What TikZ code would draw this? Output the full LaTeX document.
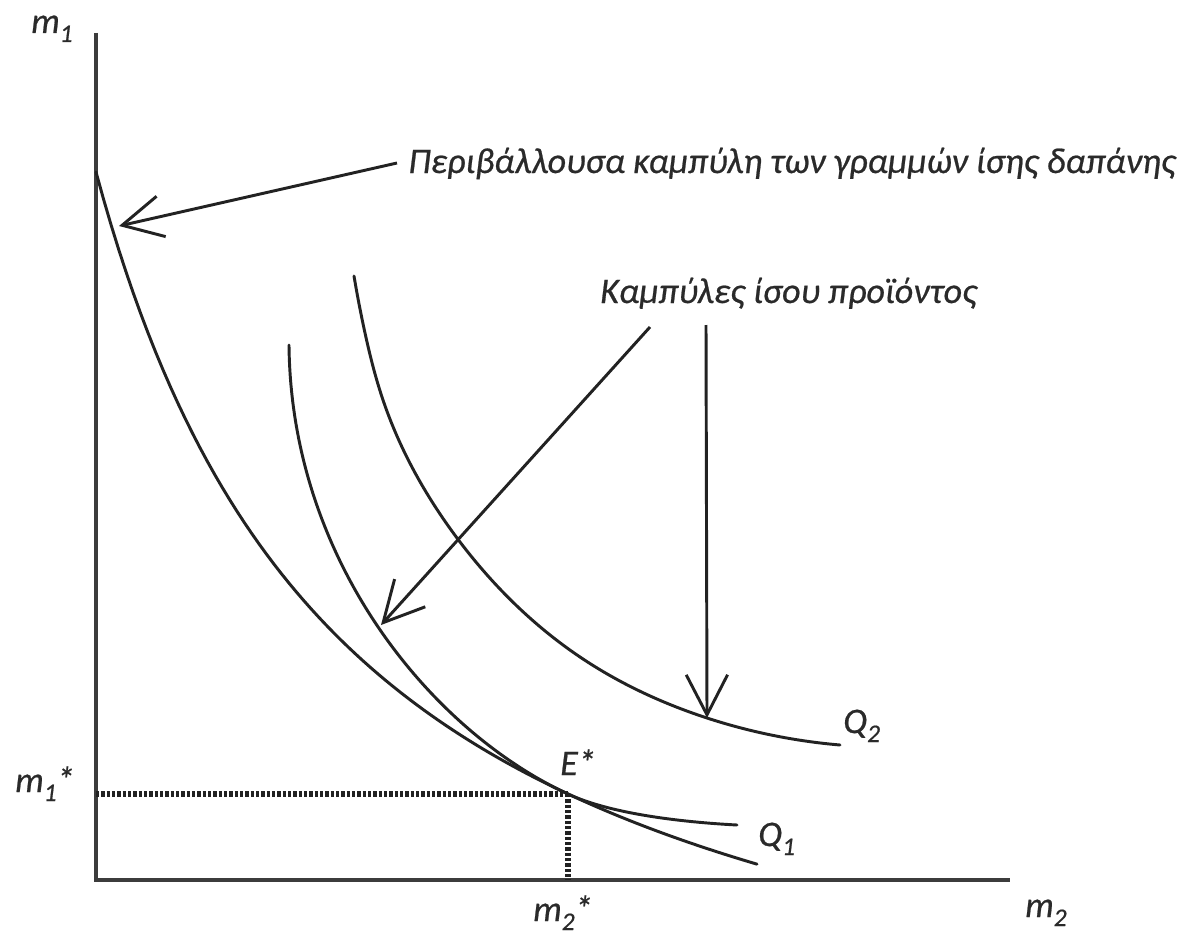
\documentclass[tikz,border=0pt]{standalone}
\usepackage{fontspec}
\setmainfont{Carlito}[ItalicFeatures={FakeBold=0.6}]
\usetikzlibrary{arrows.meta,hobby}
\definecolor{ink}{HTML}{222222}
\definecolor{axisgray}{HTML}{3C3C3C}
\definecolor{txt}{HTML}{2A2A2A}
\newcommand\sbs[1]{\raisebox{-0.25em}{\fontsize{19}{19}\selectfont #1}}
\tikzset{
  axisline/.style={draw=axisgray, line width=3pt, line join=miter},
  curveline/.style={draw=ink, line width=2.2pt, line cap=round},
  dotline/.style={draw=ink, line width=4pt, dash pattern=on 2.6pt off 1.4pt},
  arr/.style={draw=ink, line width=2.2pt, -{Straight Barb[length=30pt, width=31pt, line width=2.2pt]}},
  lab/.style={text=txt, font=\itshape\fontsize{27}{30}\selectfont, inner sep=0pt, anchor=base west},
  note/.style={text=txt, font=\itshape\fontsize{27}{30}\selectfont, inner sep=0pt, anchor=base west},
}
\begin{document}
\begin{tikzpicture}[x=0.75pt, y=-0.75pt]
\useasboundingbox[fill=white] (0,0) rectangle (1184,938);
% axes
\coordinate (ytop) at (96,33);
\coordinate (orig) at (96,880);
\coordinate (xend) at (1010,880);
\draw[axisline] (ytop) -- (orig) -- (xend);
% equilibrium
\coordinate (E) at (568,794);
\coordinate (Ey) at (96,794);
\coordinate (Ex) at (568,880);
\draw[dotline] (Ey) -- (E);
\draw[dotline] (E) -- (Ex);
% envelope (hyperbola)
\draw[curveline] plot[domain=96:757, samples=90] (\x, {880 - (2501.37/((\x+163.5)/100) - 255.9)});
% Q1
\coordinate (q1a) at (289,345);
\coordinate (q1b) at (737,825);
\draw[curveline] (q1a) .. controls (291,560) and (430,730) .. (E)
                     .. controls (610,813.6) and (680,822) .. (q1b);
% Q2
\draw[curveline, use Hobby shortcut] (354,276) .. (365,333) .. (383,400) .. (457,538) .. (580,657) .. (707,718) .. (840,745);
% arrows
\coordinate (envS) at (397,163);
\coordinate (envT) at (119,226);
\coordinate (q1S) at (650,327);
\coordinate (q1T) at (381,625);
\coordinate (q2S) at (706,325);
\coordinate (q2T) at (707,718);
\draw[arr] (envS) -- (envT);
\draw[arr] (q1S) -- (q1T);
\draw[arr] (q2S) -- (q2T);
% texts
\node[note] (envtext) at (408,173) {Περιβάλλουσα καμπύλη των γραμμών ίσης δαπάνης};
\node[note] (isotext) at (600,303) {Καμπύλες ίσου προϊόντος};
\node[lab] (m1) at (31,33) {m\sbs{1}};
\node[lab] (m1s) at (15,792) {m\sbs{1}*};
\node[lab] (m2s) at (533,921) {m\sbs{2}*};
\node[lab] (m2) at (1025,917) {m\sbs{2}};
\node[lab] (Elab) at (560,775) {E*};
\node[lab] (Q1) at (758,846) {Q\sbs{1}};
\node[lab] (Q2) at (843,733) {Q\sbs{2}};
\end{tikzpicture}
\end{document}
